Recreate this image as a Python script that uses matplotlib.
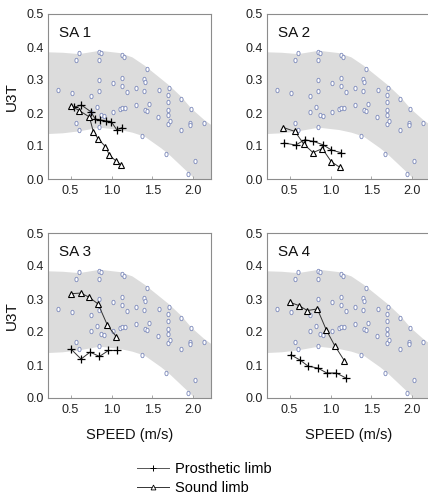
import numpy as np
import matplotlib
matplotlib.use("Agg")
import matplotlib.pyplot as plt
from matplotlib.path import Path
from matplotlib.lines import Line2D

plt.rcParams["font.family"] = ["Liberation Sans", "DejaVu Sans"]

# reference (able-bodied) cloud, same in every panel
ref_speed = [0.350, 0.522, 0.599, 0.570, 0.570, 0.599, 0.746, 0.848, 0.876, 0.848,
             0.848, 0.848, 0.827, 0.746, 0.876, 0.909, 0.848, 1.023, 1.023, 1.125,
             1.157, 1.129, 1.129, 1.186, 1.104, 1.133, 1.161, 1.304, 1.300, 1.377,
             1.398, 1.406, 1.438, 1.398, 1.406, 1.438, 1.463, 1.581, 1.573, 1.703,
             1.687, 1.687, 1.687, 1.695, 1.687, 1.716, 1.663, 1.854, 1.968, 1.854,
             1.964, 1.964, 2.131, 2.025, 1.940]
ref_u3t = [0.269, 0.261, 0.382, 0.360, 0.170, 0.147, 0.252, 0.385, 0.382, 0.362,
           0.299, 0.267, 0.218, 0.202, 0.195, 0.190, 0.159, 0.291, 0.203, 0.377,
           0.370, 0.307, 0.281, 0.264, 0.213, 0.215, 0.215, 0.277, 0.225, 0.131,
           0.304, 0.293, 0.334, 0.267, 0.210, 0.207, 0.226, 0.269, 0.188, 0.277,
           0.256, 0.233, 0.208, 0.193, 0.167, 0.175, 0.075, 0.242, 0.211, 0.149,
           0.169, 0.165, 0.171, 0.055, 0.015]

# normal range band
band_speed = [0.15, 0.40, 0.60, 0.85, 1.10, 1.25, 1.40, 1.60, 1.70, 1.85, 1.97, 2.13, 2.30]
band_upper = [0.386, 0.384, 0.380, 0.390, 0.383, 0.370, 0.345, 0.305, 0.285, 0.250, 0.215, 0.180, 0.150]
band_lower = [0.137, 0.140, 0.146, 0.157, 0.150, 0.142, 0.130, 0.095, 0.075, 0.040, 0.012, -0.030, -0.070]

subjects = ["SA 1", "SA 2", "SA 3", "SA 4"]

sound_speed = [
    [0.502, 0.608, 0.730, 0.779, 0.840, 0.926, 0.975, 1.053, 1.118],
    [0.424, 0.566, 0.672, 0.786, 0.900, 1.011, 1.117],
    [0.502, 0.624, 0.722, 0.836, 0.951, 1.061],
    [0.505, 0.615, 0.717, 0.839, 0.949, 1.051, 1.169],
]
sound_u3t = [
    [0.222, 0.207, 0.188, 0.142, 0.121, 0.098, 0.072, 0.055, 0.042],
    [0.156, 0.144, 0.106, 0.080, 0.092, 0.052, 0.035],
    [0.316, 0.318, 0.306, 0.285, 0.220, 0.185],
    [0.290, 0.280, 0.265, 0.270, 0.206, 0.159, 0.113],
]
pros_speed = [
    [0.542, 0.632, 0.747, 0.800, 0.861, 0.934, 0.996, 1.065, 1.131],
    [0.432, 0.575, 0.685, 0.791, 0.905, 1.011, 1.125],
    [0.506, 0.628, 0.738, 0.853, 0.963, 1.069],
    [0.513, 0.628, 0.729, 0.843, 0.953, 1.068, 1.186],
]
pros_u3t = [
    [0.218, 0.224, 0.204, 0.182, 0.179, 0.176, 0.174, 0.149, 0.156],
    [0.109, 0.103, 0.119, 0.114, 0.104, 0.088, 0.080],
    [0.148, 0.118, 0.139, 0.126, 0.144, 0.144],
    [0.131, 0.115, 0.096, 0.091, 0.076, 0.076, 0.061],
]

xticks = [0.5, 1.0, 1.5, 2.0]
yticks = [0.0, 0.1, 0.2, 0.3, 0.4, 0.5]

circ = Path.unit_circle()
oval = Path(circ.vertices * np.array([0.72, 1.0]), circ.codes)

W, H = 428, 499
fig = plt.figure(figsize=(W / 100, H / 100), dpi=100)

aw, ah = 163.6, 165
lefts = [47.7, 266.7]
tops = [14, 233]

for i, name in enumerate(subjects):
    row, col = divmod(i, 2)
    l = lefts[col]
    t = tops[row]
    ax = fig.add_axes([l / W, 1 - (t + ah) / H, aw / W, ah / H])

    ax.fill_between(band_speed, band_lower, band_upper, color="#dcdcdc", lw=0, zorder=1)
    ax.plot(ref_speed, ref_u3t, ls="none", marker=oval, ms=3.2, mfc="white",
            mec="#7b88ba", mew=0.6, zorder=2)
    ax.plot(pros_speed[i], pros_u3t[i], color="#333333", lw=0.7, marker="+",
            ms=5.5, mew=0.9, mec="black", zorder=3)
    ax.plot(sound_speed[i], sound_u3t[i], color="#333333", lw=0.7, marker="^",
            ms=5, mfc="white", mec="black", mew=0.8, zorder=4)

    ax.set_xlim(0.22, 2.22)
    ax.set_ylim(0, 0.5)
    ax.set_xticks(xticks)
    ax.set_yticks(yticks)
    ax.set_xticklabels([f"{v:.1f}" for v in xticks])
    ax.set_yticklabels([f"{v:.1f}" for v in yticks])
    ax.tick_params(axis="x", direction="in", length=2, width=0.6, color="#999999",
                   labelsize=9, pad=4, labelcolor="#222222")
    ax.tick_params(axis="y", length=0, labelsize=9, pad=3, labelcolor="#222222")
    for sp in ax.spines.values():
        sp.set_color("#8c8c8c")
        sp.set_linewidth(0.8)

    ax.text(0.07, 0.93, name, transform=ax.transAxes, fontsize=11,
            ha="left", va="top", color="#111111")

    if col == 0:
        ax.set_ylabel("U3T", fontsize=11, labelpad=5, color="#111111")
    if row == 1:
        ax.set_xlabel("SPEED (m/s)", fontsize=10.5, labelpad=9, color="#111111")

handles = [
    Line2D([], [], color="#555555", lw=0.7, marker="+", ms=4, mew=0.7, mec="black"),
    Line2D([], [], color="#333333", lw=0.7, marker="^", ms=3.5, mfc="white",
           mec="black", mew=0.6),
]
fig.legend(handles, ["Prosthetic limb", "Sound limb"], loc="upper left",
           bbox_to_anchor=(130 / W, 1 - 455 / H), frameon=False, fontsize=10.5,
           handlelength=2.2, handletextpad=0.4, labelspacing=0.3, borderpad=0)

fig.savefig("out.png", dpi=100)
